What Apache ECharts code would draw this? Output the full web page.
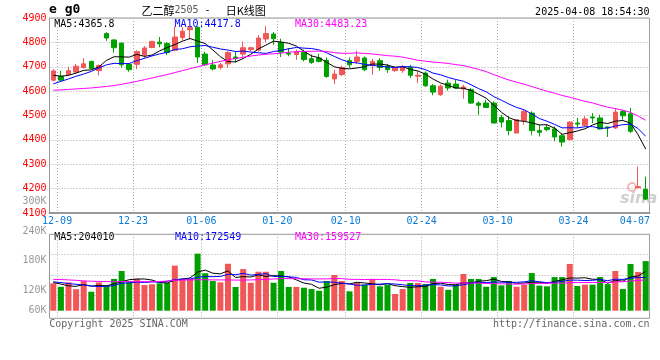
<!DOCTYPE html>
<html><head><meta charset="utf-8">
<script src="https://cdn.jsdelivr.net/npm/echarts@6/dist/echarts.min.js"></script>
<style>html,body{margin:0;padding:0;background:#fff}#c{width:660px;height:360px}</style>
</head><body><div id="c"></div>
<script>
const dates = ['12-09','12-10','12-11','12-12','12-13','12-16','12-17','12-18','12-19','12-20',
'12-23','12-24','12-25','12-26','12-27','12-30','12-31','01-02','01-03','01-06',
'01-07','01-08','01-09','01-10','01-13','01-14','01-15','01-16','01-17','01-20',
'01-21','01-22','01-23','01-24','01-27','02-05','02-06','02-07','02-10','02-11',
'02-12','02-13','02-14','02-17','02-18','02-19','02-20','02-21','02-24','02-25',
'02-26','02-27','02-28','03-03','03-04','03-05','03-06','03-07','03-10','03-11',
'03-12','03-13','03-14','03-17','03-18','03-19','03-20','03-21','03-24','03-25',
'03-26','03-27','03-28','03-31','04-01','04-02','04-03','04-07','04-08'];
const opens = [4645,4661,4667,4678,4697,4722,4684,4836,4810,4797,
4710,4710,4748,4779,4801,4795,4768,4820,4852,4862,
4752,4707,4697,4712,4740,4752,4770,4768,4814,4834,
4800,4756,4750,4758,4733,4736,4726,4650,4668,4725,
4722,4736,4708,4725,4702,4684,4684,4697,4661,4674,
4622,4585,4633,4629,4609,4606,4551,4551,4551,4492,
4479,4428,4479,4510,4438,4451,4445,4417,4401,4469,
4460,4494,4490,4453,4449,4517,4507,4204,4197];
const closes = [4683,4645,4684,4702,4712,4693,4705,4818,4778,4708,
4688,4762,4777,4804,4794,4758,4822,4846,4860,4740,
4708,4691,4708,4758,4734,4778,4778,4818,4836,4815,
4760,4752,4762,4730,4718,4722,4660,4670,4697,4708,
4740,4688,4722,4697,4688,4695,4700,4665,4665,4622,
4596,4620,4613,4613,4617,4551,4542,4533,4469,4473,
4438,4483,4517,4438,4431,4442,4412,4391,4473,4465,
4486,4490,4445,4449,4514,4499,4435,4208,4157];
const highs = [4690,4684,4700,4712,4735,4725,4710,4842,4812,4799,
4712,4768,4785,4806,4822,4802,4865,4862,4870,4866,
4762,4727,4716,4764,4762,4803,4782,4830,4868,4842,
4815,4777,4770,4770,4750,4752,4738,4688,4705,4738,
4766,4742,4733,4735,4712,4702,4708,4708,4681,4681,
4629,4627,4647,4647,4626,4613,4558,4565,4558,4503,
4497,4485,4524,4517,4462,4462,4455,4428,4476,4490,
4497,4510,4503,4455,4528,4524,4531,4290,4249];
const lows = [4640,4640,4664,4675,4692,4690,4665,4806,4758,4697,
4680,4690,4735,4776,4780,4748,4763,4808,4812,4716,
4704,4685,4688,4696,4718,4740,4763,4762,4800,4790,
4740,4743,4728,4722,4712,4718,4655,4630,4662,4695,
4711,4682,4667,4684,4675,4679,4675,4654,4633,4617,
4583,4581,4602,4609,4569,4547,4503,4533,4469,4451,
4419,4428,4462,4419,4414,4435,4394,4373,4398,4449,
4456,4469,4442,4412,4445,4483,4428,4202,4153];
// volume in thousands
const volumes = [144,126,149,113,156,100,149,135,167,209,
156,167,135,139,144,146,237,167,167,300,
197,156,149,247,125,219,147,205,205,147,
209,125,125,121,114,105,156,188,156,102,
146,137,167,128,137,88,114,146,146,140,
167,126,110,137,193,167,167,126,177,133,
156,126,137,198,132,128,177,177,246,130,
137,137,177,140,209,114,246,204,261];
// moving-average values before enough history exists in this window
const ma5Head = [4665,4661,4665,4674];
const ma10Head = [4630,4640,4650,4661,4670,4681,4695,4708,4714];
const ma30Head = [4604,4605,4607,4609,4611,4613,4616,4619,4623,4628,4634,4640,4647,4654,4661,4668,4676,4684,4692,4700,4708,4715,4722,4728,4734,4739,4744,4748,4751];
const vma5Head = [148,140,131,128];
const vma10Head = [152,148,143,139,135,130,127,128,133];
const vma30Head = [165,164,162,160,157,155,154,153,153,153,153,153,153,153,154,156,160,161,162,163,163,162,162,162,161,161,162,163,165];
const priceTicks = [4100,4200,4300,4400,4500,4600,4700,4800,4900];
const volTicks = [60,120,180,240,300];
const labelIdx = [0,10,19,29,38,48,58,68,77];
const gridIdx = [0,10,19,29,38,48,58,68];
const maLabels = ['MA5:4365.8','MA10:4417.8','MA30:4483.23'];
const vmaLabels = ['MA5:204010','MA10:172549','MA30:159527'];

function ma(arr, n, head){
  return arr.map((v,i)=>{
    if(i<n-1) return head[i];
    let s=0; for(let j=i-n+1;j<=i;j++) s+=arr[j];
    return +(s/n).toFixed(2);
  });
}
const RED='#f25757', GREEN='#00a000';
const MONO='"DejaVu Sans Mono", monospace';
const chart = echarts.init(document.getElementById('c'), null, {renderer:'canvas'});
const L=49.5, W=600;
const dotted = {lineStyle:{type:[1,2],color:'#aaa',width:1}};
const splitFn = (i)=>gridIdx.includes(i-1);
const option = {
  animation:false,
  backgroundColor:'#fff',
  grid:[
    {left:L,width:W,top:18,height:195,show:true,borderColor:'#999',borderWidth:1},
    {left:L,width:W,top:234.3,height:84,show:true,borderColor:'#999',borderWidth:1},
    {left:L,width:W,top:234.3,height:61},
    {left:L,width:W,top:201.2,height:119.3}
  ],
  xAxis:[
    {gridIndex:0,type:'category',data:dates,boundaryGap:true,
     axisLine:{show:true,lineStyle:{color:'#999',width:2}},axisTick:{show:false},
     axisLabel:{show:true,interval:(i)=>labelIdx.includes(i),margin:3,hideOverlap:false,
       formatter:(v,i)=> (dates.indexOf(v)===77? '{e|'+v+'}' : '{n|'+v+'}'),
       rich:{n:{fontFamily:MONO,fontSize:10,color:'#0a7ad6',padding:[0,0,0,7.6]},
             e:{fontFamily:MONO,fontSize:10,color:'#0a7ad6',padding:[0,6.4,0,0]}}},
     splitLine:Object.assign({show:true,interval:splitFn},dotted)},
    {gridIndex:1,type:'category',data:dates,boundaryGap:true,
     axisLine:{show:false},axisTick:{show:false},axisLabel:{show:false},
     splitLine:Object.assign({show:true,interval:splitFn},dotted)},
    {gridIndex:2,type:'value',show:false},
    {gridIndex:3,type:'value',show:false}
  ],
  yAxis:[
    {gridIndex:0,type:'value',min:priceTicks[0],max:priceTicks[priceTicks.length-1],interval:100,
     axisLine:{show:true,lineStyle:{color:'#999',width:1}},axisTick:{show:false},
     axisLabel:{color:'#f00',fontFamily:MONO,fontSize:10,margin:3,padding:[0,0,3,0],formatter:(v)=>String(v)},
     splitLine:Object.assign({show:true},dotted)},
    {gridIndex:1,type:'value',min:-40,max:402,show:false,splitLine:{show:false}},
    {gridIndex:2,type:'value',min:0,max:3,interval:1,axisLine:{show:false},axisTick:{show:false},
     axisLabel:{show:false},splitLine:Object.assign({show:true},dotted)},
    {gridIndex:3,type:'value',min:volTicks[0],max:volTicks[volTicks.length-1],interval:60,
     axisLine:{show:false},axisTick:{show:false},splitLine:{show:false},
     axisLabel:{margin:3,formatter:(v)=> v===60?'{s|'+v+'K}':'{t|'+v+'K}',
       rich:{t:{fontFamily:MONO,fontSize:10,color:'#999'},
             s:{fontFamily:MONO,fontSize:10,color:'#999',padding:[0,0,20,0]}}}}
  ],
  series:[
    {type:'candlestick',xAxisIndex:0,yAxisIndex:0,barWidth:5,
     data:opens.map((o,i)=>[o,closes[i],lows[i],highs[i]]),
     itemStyle:{color:RED,color0:GREEN,borderColor:RED,borderColor0:GREEN,borderWidth:1}},
    {type:'line',xAxisIndex:0,yAxisIndex:0,data:ma(closes,5,ma5Head),symbol:'none',lineStyle:{color:'#000',width:1}},
    {type:'line',xAxisIndex:0,yAxisIndex:0,data:ma(closes,10,ma10Head),symbol:'none',lineStyle:{color:'#0000ff',width:1}},
    {type:'line',xAxisIndex:0,yAxisIndex:0,data:ma(closes,30,ma30Head),symbol:'none',lineStyle:{color:'#ff00ff',width:1}},
    {type:'bar',xAxisIndex:1,yAxisIndex:1,barWidth:6,
     data:volumes.map((v,i)=>({value:v,itemStyle:{color: closes[i]>=opens[i]?RED:GREEN}}))},
    {type:'line',xAxisIndex:1,yAxisIndex:1,data:ma(volumes,5,vma5Head),symbol:'none',lineStyle:{color:'#000',width:1}},
    {type:'line',xAxisIndex:1,yAxisIndex:1,data:ma(volumes,10,vma10Head),symbol:'none',lineStyle:{color:'#0000ff',width:1}},
    {type:'line',xAxisIndex:1,yAxisIndex:1,data:ma(volumes,30,vma30Head),symbol:'none',lineStyle:{color:'#ff00ff',width:1}},
    {type:'line',xAxisIndex:2,yAxisIndex:2,data:[]},
    {type:'line',xAxisIndex:3,yAxisIndex:3,data:[]}
  ],
  graphic:[
    {type:'text',left:49,top:3,style:{text:'e g0',font:'bold 13px '+MONO,fill:'#000'}},
    {type:'text',x:141.5,y:10.5,style:{text:'{c|乙二醇}{n|2505}{d| - }{c|日K线图}',verticalAlign:'middle',
      rich:{c:{fontFamily:'"Noto Sans CJK SC"',fontSize:11,fill:'#000'},
            n:{fontFamily:MONO,fontSize:10,fill:'#555'},
            d:{fontFamily:MONO,fontSize:10,fill:'#000',padding:[0,9,0,0]}}}},
    {type:'text',x:649.5,y:12,style:{text:'2025-04-08 18:54:30',font:'10px '+MONO,fill:'#000',align:'right',verticalAlign:'middle'}},
    {type:'text',x:54.3,y:24,style:{text:maLabels[0],font:'10px '+MONO,fill:'#000',verticalAlign:'middle'}},
    {type:'text',x:174.5,y:24,style:{text:maLabels[1],font:'10px '+MONO,fill:'#0000ff',verticalAlign:'middle'}},
    {type:'text',x:295,y:24,style:{text:maLabels[2],font:'10px '+MONO,fill:'#ff00ff',verticalAlign:'middle'}},
    {type:'text',x:54.3,y:237.5,style:{text:vmaLabels[0],font:'10px '+MONO,fill:'#000',verticalAlign:'middle'}},
    {type:'text',x:175,y:237.5,style:{text:vmaLabels[1],font:'10px '+MONO,fill:'#0000ff',verticalAlign:'middle'}},
    {type:'text',x:295,y:237.5,style:{text:vmaLabels[2],font:'10px '+MONO,fill:'#ff00ff',verticalAlign:'middle'}},
    {type:'text',x:49.3,y:324,style:{text:'Copyright 2025 SINA.COM',font:'10px '+MONO,fill:'#666',verticalAlign:'middle'}},
    {type:'text',x:649.5,y:324,style:{text:'http://finance.sina.com.cn',font:'10px '+MONO,fill:'#666',align:'right',verticalAlign:'middle'}},
    {type:'circle',shape:{cx:632,cy:187,r:4},style:{fill:'none',stroke:'#f2b8b8',lineWidth:2}},
    {type:'text',x:620,y:199,style:{text:'sina',font:'italic bold 16px "DejaVu Sans"',fill:'#cfcfcf',verticalAlign:'middle'}}
  ]
};
chart.setOption(option);
</script>
</body></html>
